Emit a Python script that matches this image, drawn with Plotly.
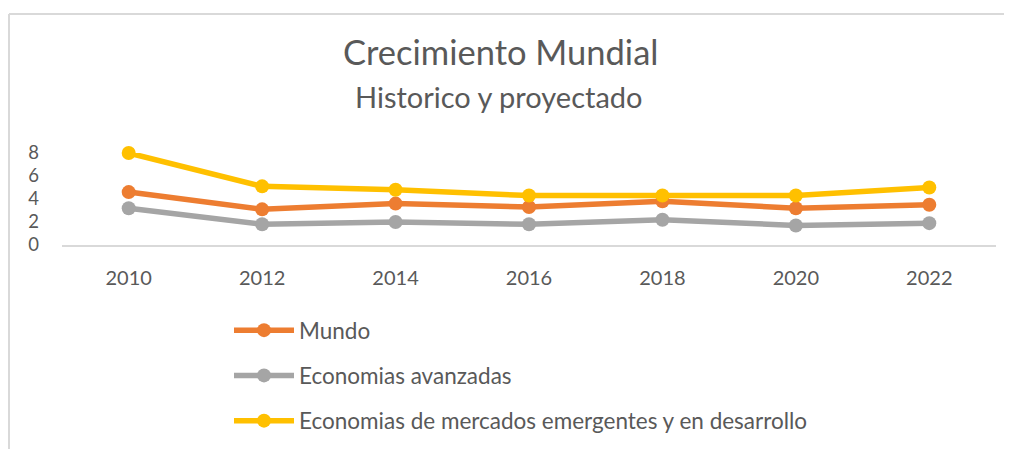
import plotly.graph_objects as go

years = ["2010", "2012", "2014", "2016", "2018", "2020", "2022"]
mundo = [4.6, 3.1, 3.6, 3.3, 3.8, 3.2, 3.5]
avanzadas = [3.2, 1.8, 2.0, 1.8, 2.2, 1.7, 1.9]
emergentes = [8.0, 5.1, 4.8, 4.3, 4.3, 4.3, 5.0]
y_ticks = [0, 2, 4, 6, 8]

series_names = ["Mundo", "Economias avanzadas",
                "Economias de mercados emergentes y en desarrollo"]
series_values = [mundo, avanzadas, emergentes]
series_colors = ["#ED7D31", "#A5A5A5", "#FFC000"]

OFF = 8  # page body margin
W, H = 1012 - OFF, 449 - OFF
# target page pixel positions
PL, PR, PT, PB = 62, 996, 153, 245
L, T = PL - OFF, PT - OFF
R = W - (PR - OFF)
B = H - (PB - OFF)
pw, ph = W - L - R, H - T - B

FONT = "Lato"
TXT = "#595959"

fig = go.Figure()
for i, (name, vals, col) in enumerate(zip(series_names, series_values, series_colors)):
    fig.add_trace(go.Scatter(
        x=years, y=vals, name=name, mode="lines+markers",
        line=dict(color=col, width=5.5),
        marker=dict(color=col, size=14),
        cliponaxis=False,
        legendgroup=f"g{i}",
    ))

def px_x(x):
    return (x - OFF - L) / pw

def px_y(y):
    return (H - B - (y - OFF)) / ph

fig.update_layout(
    width=W, height=H,
    margin=dict(l=L, r=R, t=T, b=B, pad=0, autoexpand=False),
    paper_bgcolor="white", plot_bgcolor="white",
    font=dict(family=FONT, color=TXT, size=20),
    showlegend=True,
    legend=dict(
        orientation="v", x=px_x(229), xanchor="left",
        y=px_y(309), yanchor="top",
        font=dict(size=22.5, color=TXT, family=FONT),
        tracegroupgap=13, bgcolor="rgba(0,0,0,0)",
        itemwidth=60,
    ),
    xaxis=dict(
        type="category", range=[-0.5, 6.5],
        showgrid=False, showline=True, linecolor="#D9D9D9", linewidth=1.5,
        ticks="", tickfont=dict(size=20, color=TXT, family=FONT),
        ticklabelstandoff=14, zeroline=False, automargin=False,
    ),
    yaxis=dict(
        range=[0, 8], tickvals=y_ticks, showgrid=False, showline=False,
        zeroline=False, ticks="", tickfont=dict(size=18.5, color=TXT, family=FONT),
        ticklabelstandoff=22, automargin=False,
    ),
    annotations=[
        dict(text="Crecimiento Mundial", xref="paper", yref="paper",
             x=px_x(500), y=px_y(52), xanchor="center", yanchor="middle",
             showarrow=False, font=dict(size=34.5, color=TXT, family=FONT)),
        dict(text="Historico y proyectado", xref="paper", yref="paper",
             x=px_x(499), y=px_y(96), xanchor="center", yanchor="middle",
             showarrow=False, font=dict(size=29, color=TXT, family=FONT)),
    ],
    shapes=[
        dict(type="line", xref="paper", yref="paper",
             x0=px_x(9), x1=px_x(1040), y0=px_y(14), y1=px_y(14),
             line=dict(color="#D9D9D9", width=2), layer="below"),
        dict(type="line", xref="paper", yref="paper",
             x0=px_x(9), x1=px_x(9), y0=px_y(480), y1=px_y(14),
             line=dict(color="#D9D9D9", width=2), layer="below"),
    ],
)

fig.write_html("out.html")
